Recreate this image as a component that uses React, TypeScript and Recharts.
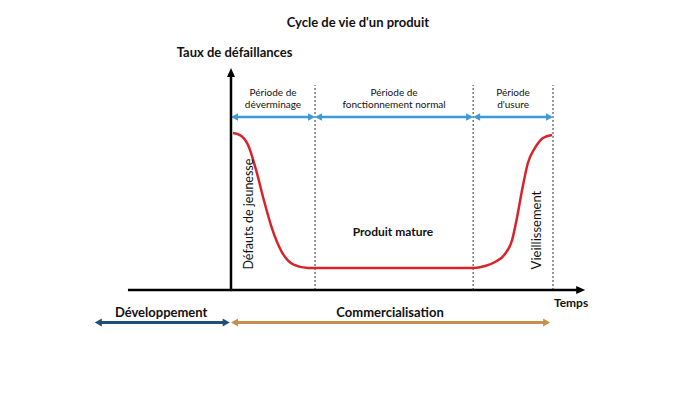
import React from "react";
import { LineChart, Line, XAxis, YAxis, ReferenceLine, ReferenceDot } from "recharts";

// Bathtub curve (time units: 0 = market launch, 100 = end of life)
const curveTime = [0.6, 2.8, 5.3, 7.8, 10.2, 12.7, 15.8, 19.6, 23.9, 30, 50, 70, 75.2, 78.9, 82, 85.1, 87.3, 88.8, 90.4, 92.2, 94.4, 96.9, 99.7];
const curveRate = [70.7, 69.8, 65.3, 54, 40.5, 27.9, 17.1, 11.3, 9.9, 9.9, 9.9, 9.9, 9.9, 10.8, 12.6, 16.2, 22.5, 32.4, 45, 57.2, 64, 68.5, 69.8];

const periodBounds = [0, 26.1, 75.2, 100];
const periodLine1 = ["Période de", "Période de", "Période"];
const periodLine2 = ["déverminage", "fonctionnement normal", "d'usure"];

const phaseNames = ["Développement", "Commercialisation"];
const phaseStart = [-42.3, 0];
const phaseEnd = [-0.4, 99.1];
const phaseColors = ["#1f4e79", "#c8904c"];

const title = "Cycle de vie d'un produit";
const yTitle = "Taux de défaillances";
const xTitle = "Temps";
const zoneLabels = ["Défauts de jeunesse", "Produit mature", "Vieillissement"];

const data = curveTime.map((t, i) => ({ t, rate: curveRate[i] }));

const FONT = "Lato, 'Open Sans', sans-serif";

type ArrowOpts = { color: string; width: number; head: number; half: number; start: boolean; end: boolean; dash?: string };

const makeArrow = (o: ArrowOpts) => (p: any) => {
  const { x1, y1, x2, y2 } = p;
  const dx = x2 - x1;
  const dy = y2 - y1;
  const len = Math.sqrt(dx * dx + dy * dy) || 1;
  const ux = dx / len;
  const uy = dy / len;
  const nx = -uy;
  const ny = ux;
  const sx = o.start ? x1 + ux * o.head * 0.8 : x1;
  const sy = o.start ? y1 + uy * o.head * 0.8 : y1;
  const ex = o.end ? x2 - ux * o.head * 0.8 : x2;
  const ey = o.end ? y2 - uy * o.head * 0.8 : y2;
  const headAt = (tx: number, ty: number, dirx: number, diry: number) => {
    const bx = tx - dirx * o.head;
    const by = ty - diry * o.head;
    return `${tx},${ty} ${bx + nx * o.half},${by + ny * o.half} ${bx - nx * o.half},${by - ny * o.half}`;
  };
  return (
    <g>
      <line x1={sx} y1={sy} x2={ex} y2={ey} stroke={o.color} strokeWidth={o.width} strokeDasharray={o.dash} />
      {o.start && <polygon points={headAt(x1, y1, -ux, -uy)} fill={o.color} />}
      {o.end && <polygon points={headAt(x2, y2, ux, uy)} fill={o.color} />}
    </g>
  );
};

const textShape = (lines: string[], opts: { size: number; bold?: boolean; rotate?: boolean; color?: string; lh?: number }) => (p: any) => {
  const { cx, cy } = p;
  const lh = opts.lh ?? opts.size * 1.25;
  const n = lines.length;
  return (
    <text
      x={cx}
      y={cy}
      textAnchor="middle"
      dominantBaseline="central"
      fontFamily={FONT}
      fontSize={opts.size}
      fontWeight={opts.bold ? 700 : 400}
      fill={opts.color ?? "#111"}
      transform={opts.rotate ? `rotate(-90 ${cx} ${cy})` : undefined}
    >
      {lines.map((l, i) => (
        <tspan key={i} x={cx} y={cy + (i - (n - 1) / 2) * lh}>
          {l}
        </tspan>
      ))}
    </text>
  );
};

export default function App() {
  return (
    <div style={{ position: "absolute", left: 0, top: 0, width: 700, height: 416, background: "#fff" }}>
      <LineChart width={700} height={416} data={data} margin={{ top: 68, right: 114.8, bottom: 81.6, left: 86.1 }}>
        <XAxis dataKey="t" type="number" domain={[-45, 110]} hide />
        <YAxis type="number" domain={[-20, 100]} hide />

        {/* period separators */}
        {periodBounds.slice(1).map((b, i) => (
          <ReferenceLine key={"d" + i} segment={[{ x: b, y: 0 }, { x: b, y: 92.3 }]} stroke="#333" strokeWidth={1} strokeDasharray="2 2" ifOverflow="visible" />
        ))}

        {/* period arrows */}
        {periodBounds.slice(1).map((b, i) => (
          <ReferenceLine
            key={"p" + i}
            segment={[{ x: periodBounds[i], y: 77.9 }, { x: b, y: 77.9 }]}
            ifOverflow="visible"
            shape={makeArrow({ color: "#3d9ad8", width: 2.5, head: 7, half: 3.8, start: true, end: true })}
          />
        ))}
        {periodBounds.slice(1).map((b, i) => (
          <ReferenceDot
            key={"pl" + i}
            x={(periodBounds[i] + b) / 2}
            y={86.5}
            r={0}
            ifOverflow="visible"
            shape={textShape([periodLine1[i], periodLine2[i]], { size: 10, lh: 12.5 })}
          />
        ))}

        {/* axes */}
        <ReferenceLine
          segment={[{ x: 0, y: -0.5 }, { x: 0, y: 100 }]}
          ifOverflow="visible"
          shape={makeArrow({ color: "#000", width: 2.5, head: 9, half: 4, start: false, end: true })}
        />
        <ReferenceLine
          segment={[{ x: -32, y: 0 }, { x: 110, y: 0 }]}
          ifOverflow="visible"
          shape={makeArrow({ color: "#000", width: 2.5, head: 9, half: 4, start: false, end: true })}
        />

        <Line dataKey="rate" type="monotone" stroke="#d9232a" strokeWidth={2.5} dot={false} isAnimationActive={false} />

        {/* zone labels */}
        <ReferenceDot x={5.3} y={34.2} r={0} ifOverflow="visible" shape={textShape([zoneLabels[0]], { size: 12.5, rotate: true })} />
        <ReferenceDot x={50.3} y={26.6} r={0} ifOverflow="visible" shape={textShape([zoneLabels[1]], { size: 12, bold: true })} />
        <ReferenceDot x={94.7} y={27} r={0} ifOverflow="visible" shape={textShape([zoneLabels[2]], { size: 13, rotate: true })} />

        {/* axis titles */}
        <ReferenceDot x={105.6} y={-5.2} r={0} ifOverflow="visible" shape={textShape([xTitle], { size: 12, bold: true })} />
        <ReferenceDot x={1.1} y={107} r={0} ifOverflow="visible" shape={textShape([yTitle], { size: 13, bold: true })} />
        <ReferenceDot x={39.4} y={120.8} r={0} ifOverflow="visible" shape={textShape([title], { size: 13, bold: true })} />

        {/* life-cycle phases */}
        {phaseNames.map((n, i) => (
          <ReferenceLine
            key={"ph" + i}
            segment={[{ x: phaseStart[i], y: -14.6 }, { x: phaseEnd[i], y: -14.6 }]}
            ifOverflow="visible"
            shape={makeArrow({ color: phaseColors[i], width: 3, head: 7, half: 4, start: true, end: true })}
          />
        ))}
        {phaseNames.map((n, i) => (
          <ReferenceDot
            key={"pn" + i}
            x={i === 0 ? -21.7 : 49.4}
            y={-10}
            r={0}
            ifOverflow="visible"
            shape={textShape([n], { size: 13, bold: true })}
          />
        ))}
      </LineChart>
    </div>
  );
}
